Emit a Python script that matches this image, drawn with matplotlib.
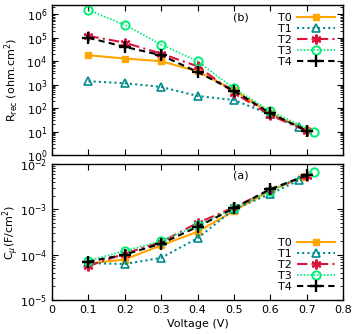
import matplotlib
matplotlib.use("Agg")
import matplotlib.pyplot as plt
from matplotlib.ticker import LogLocator, NullFormatter, MultipleLocator

series = ["T0", "T1", "T2", "T3", "T4"]

# Top panel (b): R_rec
x_b = {
    "T0": [0.1, 0.2, 0.3, 0.4, 0.5, 0.6, 0.70],
    "T1": [0.1, 0.2, 0.3, 0.4, 0.5, 0.6, 0.68],
    "T2": [0.1, 0.2, 0.3, 0.4, 0.5, 0.6, 0.70],
    "T3": [0.1, 0.2, 0.3, 0.4, 0.5, 0.6, 0.72],
    "T4": [0.1, 0.2, 0.3, 0.4, 0.5, 0.6, 0.70],
}
r_rec = {
    "T0": [1.8e4, 1.3e4, 1.0e4, 3.7e3, 590, 60, 11.5],
    "T1": [1.4e3, 1.15e3, 800, 330, 220, 54, 15],
    "T2": [1.2e5, 6.2e4, 2.1e4, 6.1e3, 450, 50, 10.5],
    "T3": [1.5e6, 3.6e5, 5.1e4, 1.0e4, 690, 75, 10],
    "T4": [1.0e5, 4.1e4, 1.8e4, 3.5e3, 550, 60, 11],
}

# Bottom panel (a): C_mu
x_a = {
    "T0": [0.1, 0.2, 0.3, 0.4, 0.5, 0.6, 0.69],
    "T1": [0.1, 0.2, 0.3, 0.4, 0.5, 0.6, 0.68],
    "T2": [0.1, 0.2, 0.3, 0.4, 0.5, 0.6, 0.70],
    "T3": [0.1, 0.2, 0.3, 0.4, 0.5, 0.6, 0.72],
    "T4": [0.1, 0.2, 0.3, 0.4, 0.5, 0.6, 0.70],
}
c_mu = {
    "T0": [6.4e-5, 7.8e-5, 1.6e-4, 3.2e-4, 9.2e-4, 2.6e-3, 5.2e-3],
    "T1": [6.5e-5, 6.2e-5, 8.5e-5, 2.3e-4, 1.0e-3, 2.2e-3, 4.4e-3],
    "T2": [5.6e-5, 1.05e-4, 1.9e-4, 5.0e-4, 1.1e-3, 2.7e-3, 5.5e-3],
    "T3": [7.4e-5, 1.2e-4, 2.0e-4, 4.4e-4, 1.05e-3, 2.6e-3, 6.8e-3],
    "T4": [7.0e-5, 1.0e-4, 1.75e-4, 4.1e-4, 1.05e-3, 2.8e-3, 5.6e-3],
}

styles = {
    "T0": dict(color="#FFA500", linestyle="-", marker="s", mfc="#FFA500", ms=5, lw=1.5),
    "T1": dict(color="#008B8B", linestyle=(0, (1, 1.5)), marker="^", mfc="none", ms=5.5, lw=1.5, mew=1.2),
    "T2": dict(color="#DC143C", linestyle=(0, (5, 2, 1, 2)), marker=(6, 2, 0), ms=7, lw=1.5, mew=1.5),
    "T3": dict(color="#00EE76", linestyle=(0, (1, 1)), marker="o", mfc="none", ms=6, lw=1.2, mew=1.4),
    "T4": dict(color="black", linestyle=(0, (3, 2)), marker="+", ms=8, lw=1.5, mew=1.7),
}

fs = 8
plt.rcParams["font.family"] = "DejaVu Sans"
fig = plt.figure(figsize=(3.54, 3.34), dpi=100)
ax1 = fig.add_axes([0.147, 0.536, 0.822, 0.449])
ax2 = fig.add_axes([0.147, 0.102, 0.822, 0.407])

for s in series:
    ax1.plot(x_b[s], r_rec[s], label=s, **styles[s])
    ax2.plot(x_a[s], c_mu[s], label=s, **styles[s])

for ax in (ax1, ax2):
    ax.set_yscale("log")
    ax.set_xlim(0, 0.8)
    ax.xaxis.set_major_locator(MultipleLocator(0.1))
    ax.yaxis.set_major_locator(LogLocator(base=10, numticks=20))
    ax.yaxis.set_minor_locator(LogLocator(base=10, subs=range(2, 10), numticks=20))
    ax.yaxis.set_minor_formatter(NullFormatter())
    ax.tick_params(which="both", direction="in", top=True, right=True, labelsize=fs)
    ax.tick_params(which="major", length=4, width=0.8)
    ax.tick_params(which="minor", length=2, width=0.6)
    for sp in ax.spines.values():
        sp.set_linewidth(1.0)
    ax.yaxis.set_label_coords(-0.105, 0.5)

ax1.set_ylim(1, 2.5e6)
ax2.set_ylim(1e-5, 1e-2)
ax1.tick_params(labelbottom=False)

ax2.set_xticks([0, 0.1, 0.2, 0.3, 0.4, 0.5, 0.6, 0.7, 0.8])
ax2.set_xticklabels(["0", "0.1", "0.2", "0.3", "0.4", "0.5", "0.6", "0.7", "0.8"])

ax1.set_ylabel(r"R$_{\rm rec}$ (ohm.cm$^2$)", fontsize=fs)
ax2.set_ylabel(r"C$_{\mu}$(F/cm$^2$)", fontsize=fs)
ax2.set_xlabel("Voltage (V)", fontsize=fs, labelpad=3)

ax1.text(0.52, 7e5, "(b)", fontsize=fs, ha="center", va="center")
ax2.text(0.52, 5.5e-3, "(a)", fontsize=fs, ha="center", va="center")

leg_kw = dict(fontsize=fs, frameon=False, markerfirst=False, handlelength=3.4,
              handletextpad=0.5, labelspacing=0.1, borderaxespad=0.3)
ax1.legend(loc="upper right", **leg_kw)
ax2.legend(loc="lower right", **leg_kw)

fig.savefig("out.png", dpi=100)
